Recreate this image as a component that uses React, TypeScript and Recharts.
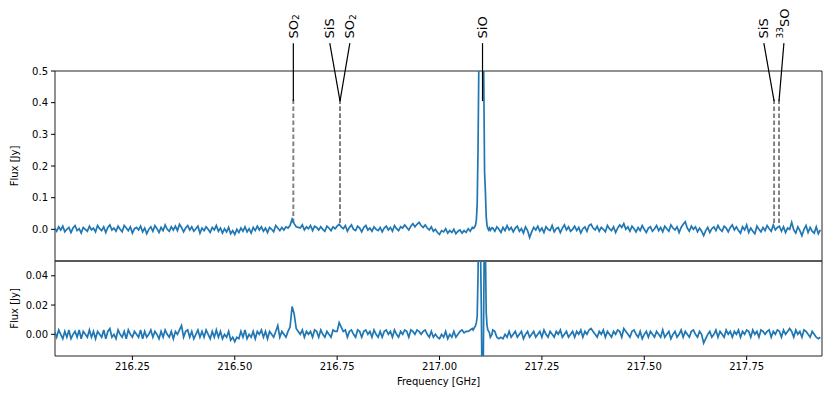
import {
  Line,
  LineChart,
  ReferenceArea,
  ReferenceDot,
  ReferenceLine,
  XAxis,
  YAxis,
} from "recharts";

const FONT = '"DejaVu Sans", sans-serif';
const BLUE = "#1f77b4";
const FRAME = "#222";

const X_DOMAIN: [number, number] = [216.061, 217.934];
const X_TICKS = [216.25, 216.5, 216.75, 217.0, 217.25, 217.5, 217.75];
const TOP_DOMAIN: [number, number] = [-0.1, 0.5];
const TOP_TICKS = [-0.1, 0, 0.1, 0.2, 0.3, 0.4, 0.5];
const BOTTOM_DOMAIN: [number, number] = [-0.0148, 0.0501];
const BOTTOM_TICKS = [0, 0.02, 0.04];

// line identifications (rest frequency, GHz)
const LINE_NAMES = ["SO2", "SiS", "SO2", "SiO", "SiS", "33SO"];
const LINE_FREQS = [216.643, 216.757, 216.757, 217.105, 217.817, 217.829];
// where each name sits along the top (labels fan out when lines are close)
const LABEL_FREQS = [216.643, 216.732, 216.781, 217.105, 217.792, 217.841];
const DASHED = [true, true, true, false, true, true];

// top spectrum, mJy: 216.060 + 0.005*i
const TOP_A = [
  4, -6, 8, -2, 10, -8, 0, 6, -10, 4, 12, -4, 2, -12, 6, 0, -6, 10, -2, 4,
  -8, 12, 2, -4, 8, -10, 6, 14, -2, 4, -6, 10, 0, -8, 12, 4, -4, 8, -12, 2,
  6, -2, 10, -8, 4, -14, 0, 8, -6, 12, 2, -10, 6, -4, 14, 0, -6, 8, -2, 10,
  -4, 16, 6, -8, 4, 12, -2, 8, -6, 2, 10, -12, 4, -4, 8, 0, -10, 6, -2, 12,
  -6, 4, -12, 2, -8, 6, -14, -4, -16, 0, -10, 4, -6, 8, -8, 2, -12, 6, -4, 10,
  -2, 8, -6, 4, -10, 6, 0, -8, 12, 4, -4, 6, -2, 8, 4, 12, 32, 18, 8, 6,
  4, 14, -2, 8, 2, 12, -4, 10, 6, -2, 8, 0, -6, 10, 4, -4, 8, 2, 10, 16,
  8, 2, 12, -6, 6, 14, 0, -4, 10, 4, -8, 6, 12, -2, 4, -6, 8, 0, -4, 6,
  -8, 4, 10, -2, 6, -6, 12, 2, -4, 8, 4, 14, 6, -2, 10, 18, 8, 16, 22, 12,
  6, 14, 4, -2, 8, -6, 0, -10, -16, -4, -8, 2, -12, -4, -10, 0, -14, -6, -2, -12,
  -4, -10, 2, -6, 6,
];
// SiO 5-4 core, mJy: 217.082 + 0.002*k
const TOP_SIO = [
  3, 4, 8, 14, 30, 80, 250, 520, 900, 1200, 1300, 1100, 950, 480, 180, 120,
  40, 12, 3, -2, 4, -3, 1, 5,
];
// mJy: 217.130 + 0.005*j
const TOP_B = [
  4, -6, 8, 0, -10, 6, -4, 12, -2, 6, -8, 4, 10, -6, 2, -12, 8, -4, -26, -8,
  6, -2, 10, -6, 4, -10, 8, 0, -4, 12, -8, 2, 6, -10, 4, 14, -2, 8, -6, 0,
  10, -4, 6, -12, 2, 8, -6, 12, 16, 4, -2, 10, -6, 6, 0, -8, 12, 2, -4, 8,
  -10, 4, 14, 6, 18, 0, 8, -6, 10, 2, -8, 6, -4, 12, 0, -10, 4, 8, -6, 2,
  12, -4, 6, -8, 10, 2, -6, 14, 4, -2, 8, -10, 6, 16, 24, 4, -6, 10, 0, 8,
  -8, 4, -6, -20, -4, 6, -10, 2, 8, -4, 12, 0, -6, 10, 4, -8, 6, 14, -2, 8,
  -4, -12, 8, -2, 14, -10, 4, -6, -14, 10, 0, -8, 6, -4, 12, 2, -6, 14, -2, 6,
  10, -6, 8, -10, 4, 0, 22, -2, -12, 8, -4, -20, 0, 12, -10, 6, -6, -12, 8, -14,
  -2,
];

// lower spectrum, mJy, same channels
const BOT_A = [
  2, -2, 3, 0, -3, 2, -2, 3, -3, 0, 2, -2, 3, -3, 2, 0, -2, 3, -2, 2,
  -3, 2, 0, -2, 3, -3, 2, 4, -2, 0, -3, 3, 0, -2, 2, -3, 3, 0, -2, 2,
  0, -2, 3, -3, 2, -2, 0, 3, -2, 2, 0, -3, 2, -2, 3, 0, -2, 2, -3, 2,
  0, 3, 6, -2, 2, 3, -2, 2, -3, 0, 3, -2, 2, -2, 3, 0, -3, 2, -2, 3,
  -2, 2, -3, 0, -2, 2, -4, -2, -5, -2, -3, 2, -2, 3, -3, 0, -2, 2, -3, 2,
  0, 3, -2, 2, -3, 2, 0, -2, 2, 6, -2, 2, 0, -2, 2, 5, 19, 14, 4, 2,
  0, 3, -2, 2, 0, 2, -2, 3, 2, -2, 3, 0, -2, 2, 0, -2, 3, 2, 2, 8,
  5, 2, 3, -2, 2, 3, 0, -2, 3, 2, -2, 2, 3, 0, 2, -2, 3, 0, -2, 2,
  -2, 2, 3, 0, 2, -2, 3, 0, -2, 2, 0, 3, 2, -2, 3, 2, 0, 3, 2, 0,
  2, 3, 0, -2, 2, -2, 0, -2, -3, 0, -2, 2, -3, 0, -2, 2, -2, 0, 2, 3,
  1, 2, 2, 3, 4,
];
const BOT_SIO = [
  3, 4, 5, 6, 8, 12, 40, 90, 110, 60, 20, -40, -50, 20, 90, 60, 15, 6, 3, 2,
  1, -2, -1, 0,
];
const BOT_B = [
  3, 2, -2, -3, -2, -3, 0, -2, 2, -2, 0, 2, -2, 0, 2, -3, 0, 2, -2, 0,
  2, -2, 0, 2, -2, 3, 0, -2, 2, 0, -2, 2, 0, 3, -2, 0, 2, -2, 0, 2,
  -2, 2, 0, 3, -2, 2, 0, 3, 4, 2, 0, -2, 2, 0, 3, -2, 2, 0, -2, 2,
  0, 3, 2, -2, 4, 2, 0, -2, 2, 3, 0, -2, 2, -3, 0, 2, -2, 2, 0, -2,
  2, 0, -2, 3, -2, 0, 2, -3, 0, 2, -2, 0, 3, -2, 2, 0, -2, 2, 3, 0,
  -2, 2, 0, -6, -3, 0, 2, -2, 0, 3, -2, 2, 0, -2, 3, 0, 2, -2, 2, 0,
  3, -2, 2, 0, 3, 2, -2, 3, 0, 2, -2, 3, 2, 0, 2, 3, -2, 2, 0, 3,
  2, -2, 3, 0, 2, 4, 2, -2, 3, 0, 2, -2, 3, 2, 0, -2, 2, 0, -2, -3,
  -2,
];

function channels(start: number, step: number, mJy: number[]) {
  return mJy.map((v, i) => ({ f: start + i * step, flux: v / 1000 }));
}

const TOP_DATA = [
  ...channels(216.06, 0.005, TOP_A),
  ...channels(217.082, 0.002, TOP_SIO),
  ...channels(217.13, 0.005, TOP_B),
];
const BOTTOM_DATA = [
  ...channels(216.06, 0.005, BOT_A),
  ...channels(217.082, 0.002, BOT_SIO),
  ...channels(217.13, 0.005, BOT_B),
];

const tickStyle = { fontSize: 10, fill: "#000", fontFamily: FONT };

function FluxTitle(props: any) {
  const vb = props.viewBox || { x: 0, y: 0, height: 0 };
  const x = vb.x + 14;
  const y = vb.y + vb.height / 2;
  return (
    <text
      x={x}
      y={y}
      transform={`rotate(-90 ${x} ${y})`}
      textAnchor="middle"
      dominantBaseline="central"
      fontSize={10}
      fontFamily={FONT}
      fill="#000"
    >
      Flux [Jy]
    </text>
  );
}

function LineName({ cx, cy, name }: { cx: number; cy: number; name: string }) {
  let body: React.ReactNode = name;
  if (name === "SO2") {
    body = (
      <>
        SO
        <tspan fontSize={9} dy={3}>
          2
        </tspan>
      </>
    );
  } else if (name === "33SO") {
    body = (
      <>
        <tspan fontSize={9} dy={-4}>
          33
        </tspan>
        <tspan dy={4}>SO</tspan>
      </>
    );
  }
  return (
    <text
      x={cx}
      y={cy}
      transform={`rotate(-90 ${cx} ${cy})`}
      dominantBaseline="central"
      fontSize={13}
      fontFamily={FONT}
      fill="#000"
    >
      {body}
    </text>
  );
}

export default function App() {
  return (
    <div
      style={{
        position: "absolute",
        left: 0,
        top: 0,
        width: 830,
        height: 397,
        background: "#fff",
      }}
    >
      <div style={{ position: "absolute", left: 0, top: 0 }}>
        <LineChart
          width={830}
          height={262}
          data={TOP_DATA}
          margin={{ top: 71, right: 8, bottom: 1, left: 0 }}
        >
          <XAxis
            type="number"
            dataKey="f"
            domain={X_DOMAIN}
            allowDataOverflow
            hide
          />
          <YAxis
            type="number"
            domain={TOP_DOMAIN}
            ticks={TOP_TICKS}
            allowDataOverflow
            width={55}
            axisLine={false}
            tickSize={4}
            tickMargin={3}
            tick={tickStyle}
            tickLine={{ stroke: "#000" }}
            tickFormatter={(v: number) =>
              v < 0 ? `\u2212${Math.abs(v).toFixed(1)}` : v.toFixed(1)
            }
            label={{ content: (p: any) => <FluxTitle {...p} /> }}
          />
          <ReferenceArea
            x1={X_DOMAIN[0]}
            x2={X_DOMAIN[1]}
            y1={TOP_DOMAIN[0]}
            y2={TOP_DOMAIN[1]}
            fill="none"
            stroke={FRAME}
            strokeWidth={1}
            ifOverflow="visible"
          />
          {LINE_FREQS.map((f, i) =>
            DASHED[i] ? (
              <ReferenceLine
                key={`d${i}`}
                segment={[
                  { x: f, y: 0.41 },
                  { x: f, y: f > 217.5 ? 0.015 : 0.02 },
                ]}
                stroke="#7f7f7f"
                strokeWidth={1.9}
                strokeDasharray="4.5 2.5"
                ifOverflow="visible"
              />
            ) : null
          )}
          <Line
            dataKey="flux"
            type="linear"
            stroke={BLUE}
            strokeWidth={1.7}
            dot={false}
            isAnimationActive={false}
          />
          {LINE_FREQS.map((f, i) => (
            <ReferenceLine
              key={`s${i}`}
              segment={[
                { x: LABEL_FREQS[i], y: 0.588 },
                { x: f, y: 0.405 },
              ]}
              stroke="#000"
              strokeWidth={1.2}
              ifOverflow="visible"
            />
          ))}
          {LINE_NAMES.map((name, i) => (
            <ReferenceDot
              key={`n${i}`}
              x={LABEL_FREQS[i]}
              y={0.603}
              r={0}
              ifOverflow="visible"
              shape={(p: any) => <LineName cx={p.cx} cy={p.cy} name={name} />}
            />
          ))}
        </LineChart>
      </div>
      <div style={{ position: "absolute", left: 0, top: 255 }}>
        <LineChart
          width={830}
          height={142}
          data={BOTTOM_DATA}
          margin={{ top: 6, right: 8, bottom: 0, left: 0 }}
        >
          <XAxis
            type="number"
            dataKey="f"
            domain={X_DOMAIN}
            ticks={X_TICKS}
            interval={0}
            allowDataOverflow
            height={41}
            axisLine={false}
            tickSize={4}
            tickMargin={3}
            tick={tickStyle}
            tickLine={{ stroke: "#000" }}
            tickFormatter={(v: number) => v.toFixed(2)}
            label={{
              value: "Frequency [GHz]",
              position: "insideBottom",
              offset: 12,
              fontSize: 10,
              fontFamily: FONT,
              fill: "#000",
            }}
          />
          <YAxis
            type="number"
            domain={BOTTOM_DOMAIN}
            ticks={BOTTOM_TICKS}
            allowDataOverflow
            width={55}
            axisLine={false}
            tickSize={4}
            tickMargin={3}
            tick={tickStyle}
            tickLine={{ stroke: "#000" }}
            tickFormatter={(v: number) => v.toFixed(2)}
            label={{ content: (p: any) => <FluxTitle {...p} /> }}
          />
          <ReferenceArea
            x1={X_DOMAIN[0]}
            x2={X_DOMAIN[1]}
            y1={BOTTOM_DOMAIN[0]}
            y2={BOTTOM_DOMAIN[1]}
            fill="none"
            stroke={FRAME}
            strokeWidth={1}
            ifOverflow="visible"
          />
          <Line
            dataKey="flux"
            type="linear"
            stroke={BLUE}
            strokeWidth={1.7}
            dot={false}
            isAnimationActive={false}
          />
        </LineChart>
      </div>
    </div>
  );
}
